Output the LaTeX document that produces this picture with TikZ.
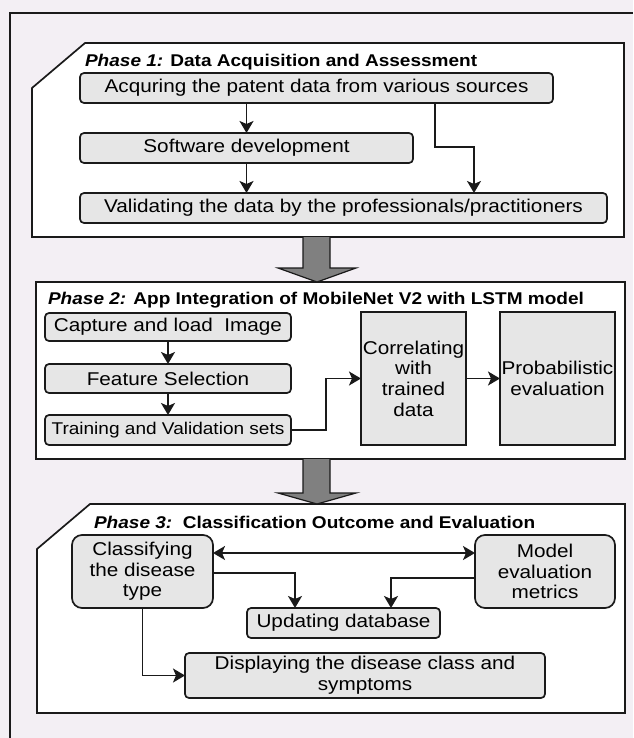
\documentclass[tikz,border=0pt]{standalone}
\usepackage{fontspec}
\setmainfont{Liberation Sans}[FakeStretch=1.12]
\usetikzlibrary{arrows.meta}
\definecolor{pagebg}{HTML}{F3EFF4}
\definecolor{boxfill}{HTML}{E6E6E6}
\definecolor{flowgray}{HTML}{808080}
\definecolor{edge}{HTML}{1A1A1A}
\begin{document}
\begin{tikzpicture}[x=1pt,y=-1pt,
  every node/.style={inner sep=0pt, outer sep=0pt},
  txt/.style={font=\fontsize{18.5}{20.7}\selectfont, align=center, text=black},
  stepbox/.style={txt, draw=edge, fill=boxfill, line width=1.7pt, rounded corners=4pt},
  tallbox/.style={txt, draw=edge, fill=boxfill, line width=1.7pt},
  roundbox/.style={txt, draw=edge, fill=boxfill, line width=1.7pt, rounded corners=10pt},
  phase/.style={draw=edge, fill=white, line width=1.7pt},
  title/.style={anchor=base west, font=\fontsize{17}{20}\selectfont\bfseries},
  tip/.tip={Stealth[length=12pt,width=14pt,inset=3pt]},
  flow/.style={draw=edge, line width=1.8pt, -tip},
  flowboth/.style={draw=edge, line width=1.8pt, tip-tip},
  bigarrow/.style={draw=edge, fill=flowgray, line width=1.2pt, line join=miter}
]
% page and outer frame
\fill[pagebg] (0,0) rectangle (633,738);
\useasboundingbox (0,0) rectangle (633,738);
\draw[edge, line width=1.8pt] (10,738) -- (10,13) -- (633,13);

% phase containers
\draw[phase] (85,43) -- (624,43) -- (624,237) -- (32,237) -- (32,88) -- cycle;
\draw[phase] (36,282) rectangle (625,459);
\draw[phase] (90,504) -- (625,504) -- (625,713) -- (37,713) -- (37,549) -- cycle;

% block arrows between phases
\draw[bigarrow] (303,237) -- (303,268) -- (278,268) -- (317,282) -- (356,268) -- (330,268) -- (330,237);
\draw[bigarrow] (303,459) -- (303,493) -- (278,493) -- (317,504) -- (356,493) -- (330,493) -- (330,459);

% titles
\node[title] (t1) at (85,67) {\textit{Phase 1:} Data Acquisition and Assessment};
\node[title] (t2) at (48,304) {\textit{Phase 2:} App Integration of MobileNet V2 with LSTM model};
\node[title] (t3) at (94,528) {\textit{Phase 3:}\ \ Classification Outcome and Evaluation};

% Phase 1
\node[stepbox, minimum width=473pt, minimum height=30pt] (acq) at (316.5,88) {Acquring the patent data from various sources};
\node[stepbox, minimum width=333pt, minimum height=30pt] (soft) at (246.5,148) {Software development};
\node[stepbox, minimum width=527pt, minimum height=30pt] (valid) at (343.5,208) {Validating the data by the professionals/practitioners};
\coordinate (b1) at (435,147);
\coordinate (b2) at (474,0);
\draw[flow] (soft.north |- acq.south) -- (soft.north);
\draw[flow] (soft.south) -- (soft.south |- valid.north);
\draw[flow] (b1 |- acq.south) -- (b1) -| (b2 |- valid.north);

% Phase 2
\node[stepbox, minimum width=246pt, minimum height=28pt] (cap) at (168,327) {Capture and load\ \ Image};
\node[stepbox, minimum width=246pt, minimum height=29pt] (feat) at (168,378.5) {Feature Selection};
\node[stepbox, minimum width=246pt, minimum height=30pt, font=\fontsize{17}{20}\selectfont] (train) at (168,430) {Training and Validation sets};
\node[tallbox, minimum width=105pt, minimum height=133pt] (corr) at (413.5,378.5) {Correlating\\with\\trained\\data};
\node[tallbox, minimum width=115pt, minimum height=133pt] (prob) at (557.5,378.5) {Probabilistic\\evaluation};
\coordinate (b3) at (326,430);
\draw[flow] (cap) -- (feat);
\draw[flow] (feat) -- (train);
\draw[flow] (train.east) -- (b3) |- (corr.west);
\draw[flow] (corr) -- (prob);

% Phase 3
\node[roundbox, minimum width=141pt, minimum height=73pt] (cls) at (142.5,571.5) {Classifying\\the disease\\type};
\node[roundbox, minimum width=140pt, minimum height=73pt] (model) at (545,571.5) {Model\\evaluation\\metrics};
\node[stepbox, minimum width=193pt, minimum height=30pt] (upd) at (343.5,623) {Updating database};
\node[stepbox, minimum width=360pt, minimum height=45pt] (disp) at (365,675.5) {Displaying the disease class and\\symptoms};
\coordinate (h1) at (0,553);
\coordinate (h2) at (295,573);
\coordinate (h3) at (391,578);
\draw[flowboth] (cls.east |- h1) -- (model.west |- h1);
\draw[flow] (cls.east |- h2) -- (h2) -- (h2 |- upd.north);
\draw[flow] (model.west |- h3) -- (h3) -- (h3 |- upd.north);
\draw[flow] (cls.south) |- (disp.west);
\end{tikzpicture}
\end{document}
